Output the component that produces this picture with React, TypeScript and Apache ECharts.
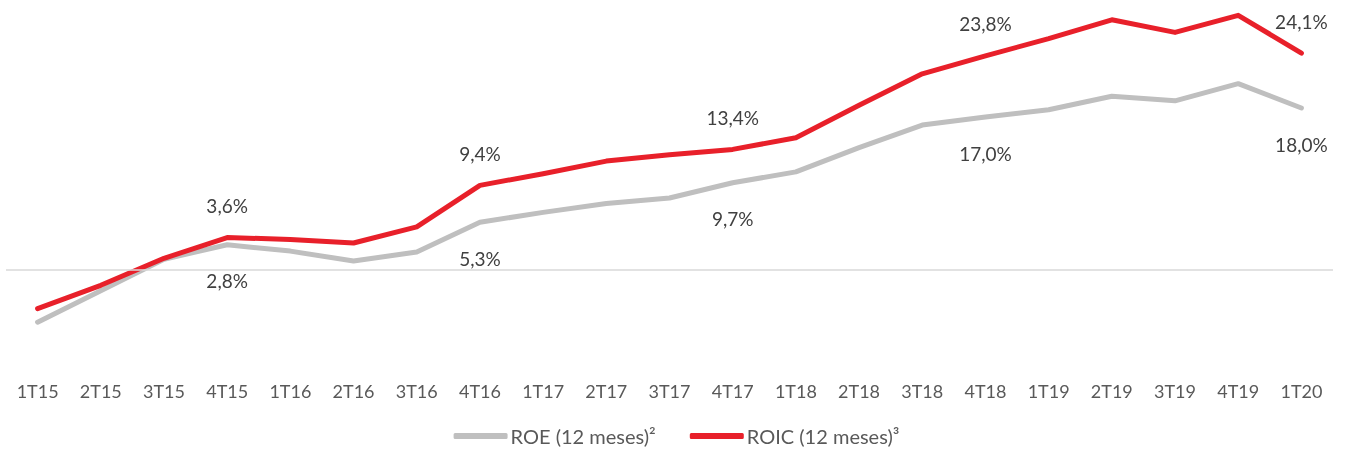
import React, { useEffect, useRef } from "react";
import * as echarts from "echarts";

const categories = ["1T15","2T15","3T15","4T15","1T16","2T16","3T16","4T16","1T17","2T17","3T17","4T17","1T18","2T18","3T18","4T18","1T19","2T19","3T19","4T19","1T20"];
const roe = [-5.8, -2.3, 1.2, 2.8, 2.1, 1.0, 2.0, 5.3, 6.4, 7.4, 8.0, 9.7, 10.9, 13.6, 16.1, 17.0, 17.8, 19.3, 18.8, 20.7, 18.0];
const roic = [-4.3, -1.7, 1.3, 3.6, 3.4, 3.0, 4.8, 9.4, 10.7, 12.1, 12.8, 13.4, 14.7, 18.3, 21.8, 23.8, 25.7, 27.8, 26.4, 28.3, 24.1];
const labeledIdx = [3, 7, 11, 15, 20];

const FONT = "Lato";
const fmt = (v: number) => v.toFixed(1).replace(".", ",") + "%";

export default function App() {
  const ref = useRef<HTMLDivElement>(null);
  useEffect(() => {
    const chart = echarts.init(ref.current!, null, { renderer: "svg" });
    const mk = (vals: number[], pos: "top" | "bottom", dist: number) =>
      vals.map((v, i) =>
        labeledIdx.includes(i)
          ? { value: v, label: { show: true, position: pos, distance: dist, formatter: () => fmt(v) } }
          : v
      );
    chart.setOption({
      animation: false,
      textStyle: { fontFamily: FONT },
      grid: { left: 6, right: 20, top: 0, bottom: 96 },
      legend: {
        bottom: 5,
        left: "center",
        icon: "roundRect",
        itemWidth: 54,
        itemHeight: 6,
        itemGap: 34,
        textStyle: { fontFamily: FONT, fontSize: 20, color: "#595959", padding: [0, 0, 0, -2] },
        data: ["ROE (12 meses)²", "ROIC (12 meses)³"],
      },
      xAxis: {
        type: "category",
        data: categories,
        boundaryGap: true,
        axisLine: { show: false, onZero: false },
        axisTick: { show: false },
        axisLabel: { color: "#595959", fontSize: 18, fontFamily: FONT, margin: 22 },
      },
      yAxis: {
        type: "value",
        min: -10,
        max: 30,
        show: false,
        splitLine: { show: false },
      },
      series: [
        {
          name: "ROE (12 meses)²",
          type: "line",
          data: mk(roe, "bottom", 26),
          symbol: "circle",
          symbolSize: 1,
          showSymbol: true,
          itemStyle: { color: "#bfbfbf" },
          lineStyle: { color: "#bfbfbf", width: 5, cap: "round", join: "round" },
          label: { color: "#404040", fontSize: 19, fontFamily: FONT },
          markLine: {
            silent: true,
            symbol: "none",
            label: { show: false },
            lineStyle: { color: "#d9d9d9", width: 1.5, type: "solid" },
            data: [{ yAxis: 0 }],
          },
          z: 2,
        },
        {
          name: "ROIC (12 meses)³",
          type: "line",
          data: mk(roic, "top", 22),
          symbol: "circle",
          symbolSize: 1,
          showSymbol: true,
          itemStyle: { color: "#e8202a" },
          lineStyle: { color: "#e8202a", width: 5, cap: "round", join: "round" },
          label: { color: "#404040", fontSize: 19, fontFamily: FONT },
          z: 3,
        },
      ],
    });
    return () => chart.dispose();
  }, []);
  return <div ref={ref} style={{ position: "fixed", left: 0, top: 0, width: 1353, height: 456 }} />;
}
